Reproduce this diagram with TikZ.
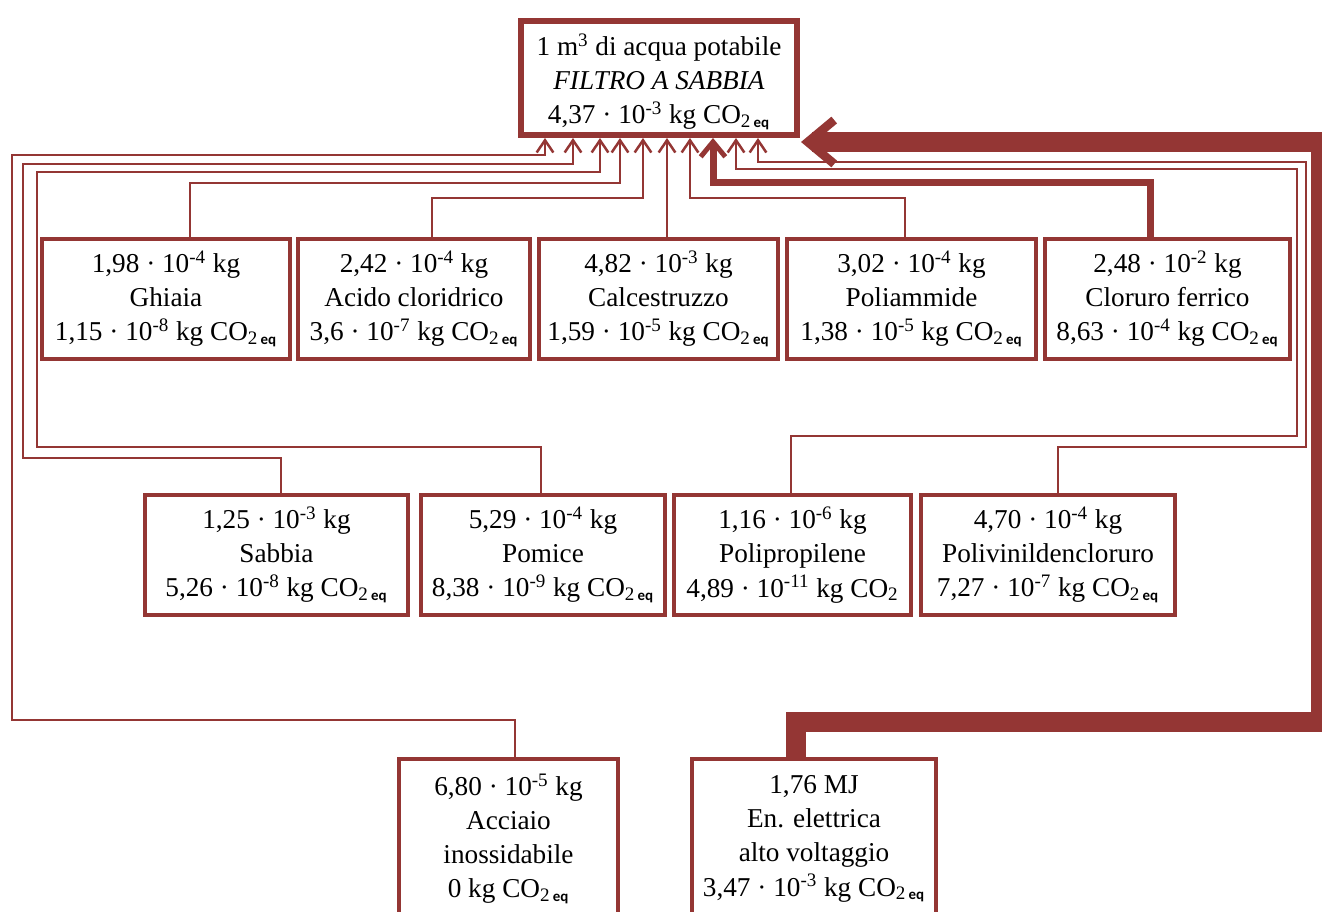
\documentclass[tikz,border=0pt]{standalone}
\usepackage{fontspec}
\setmainfont{Liberation Serif}
\setsansfont{Carlito}
\usetikzlibrary{arrows.meta}
\definecolor{wine}{RGB}{148,54,52}
\newcommand{\coeq}{CO\textsubscript{2\,\sffamily\bfseries\fontsize{8.5}{8.5}\selectfont eq}}

\begin{document}
\begin{tikzpicture}[
  x=0.02cm, y=-0.02cm,
  every node/.style={font=\fontsize{15.5}{19.4}\selectfont},
  item/.style={draw=wine, line width=0.08cm, fill=white, align=center, minimum height=2.4cm, inner sep=2pt},
  goal/.style={item, line width=0.12cm, minimum width=5.52cm, minimum height=2.28cm},
  link/.style={draw=wine, line width=0.05cm, -{Straight Barb[length=7pt,width=9.5pt]}},
  heavy/.style={draw=wine, line width=0.14cm, -{Straight Barb[length=8.5pt,width=14pt,line width=2.8pt]}},
  power/.style={draw=wine, line width=0.4cm, -{Straight Barb[length=15pt,width=25pt,line width=5pt]}}
]
\useasboundingbox (0,0) rectangle (1322,912);

\node[goal] (top) at (659,78) {\rule{0pt}{17pt}1 m\textsuperscript{3} di acqua potabile\\\textit{FILTRO A SABBIA}\\4,37 · 10\textsuperscript{-3} kg \coeq};

\node[item, minimum width=4.96cm] (ghiaia) at (166,299) {1,98 · 10\textsuperscript{-4} kg\\Ghiaia\\1,15 · 10\textsuperscript{-8} kg \coeq};
\node[item, minimum width=4.64cm] (acido) at (414,299) {2,42 · 10\textsuperscript{-4} kg\\Acido cloridrico\\3,6 · 10\textsuperscript{-7} kg \coeq};
\node[item, minimum width=4.78cm] (calc) at (658.5,299) {4,82 · 10\textsuperscript{-3} kg\\Calcestruzzo\\1,59 · 10\textsuperscript{-5} kg \coeq};
\node[item, minimum width=4.98cm] (poliam) at (911.5,299) {3,02 · 10\textsuperscript{-4} kg\\Poliammide\\1,38 · 10\textsuperscript{-5} kg \coeq};
\node[item, minimum width=4.90cm] (clor) at (1167.5,299) {2,48 · 10\textsuperscript{-2} kg\\Cloruro ferrico\\8,63 · 10\textsuperscript{-4} kg \coeq};

\node[item, minimum width=5.26cm] (sabbia) at (276.5,555) {1,25 · 10\textsuperscript{-3} kg\\Sabbia\\5,26 · 10\textsuperscript{-8} kg \coeq};
\node[item, minimum width=4.88cm] (pomice) at (543,555) {5,29 · 10\textsuperscript{-4} kg\\Pomice\\8,38 · 10\textsuperscript{-9} kg \coeq};
\node[item, minimum width=4.74cm] (pp) at (792.5,555) {1,16 · 10\textsuperscript{-6} kg\\Polipropilene\\4,89 · 10\textsuperscript{-11} kg CO\textsubscript{2}};
\node[item, minimum width=5.08cm] (pvdc) at (1048,555) {4,70 · 10\textsuperscript{-4} kg\\Polivinildencloruro\\7,27 · 10\textsuperscript{-7} kg \coeq};

\node[item, anchor=north, minimum width=4.38cm, minimum height=3.2cm] (acc) at (508.5,757) {6,80 · 10\textsuperscript{-5} kg\\Acciaio\\inossidabile\\0 kg \coeq};
\node[item, anchor=north, minimum width=4.88cm, minimum height=3.2cm] (elet) at (814,757) {1,76 MJ\\En. elettrica\\alto voltaggio\\3,47 · 10\textsuperscript{-3} kg \coeq};

\foreach \i/\xx in {1/545,2/573,3/600,4/620,5/643,6/667,7/690,8/713,9/736,10/758}
  \coordinate (in\i) at (\xx,138);
\coordinate (in11) at (801,142);

\draw[link] (acc.north -| 515,0) |- (12,720) |- (0,155 -| in1) -- (in1);
\draw[link] (sabbia.north -| 281,0) |- (23,458) |- (0,164 -| in2) -- (in2);
\draw[link] (pomice.north -| 541,0) |- (37,447) |- (0,172 -| in3) -- (in3);
\draw[link] (ghiaia.north -| 190,0) |- (0,183 -| in4) -- (in4);
\draw[link] (acido.north -| 432,0) |- (0,198 -| in5) -- (in5);
\draw[link] (calc.north -| in6) -- (in6);
\draw[link] (poliam.north -| 905,0) |- (0,198 -| in7) -- (in7);
\draw[heavy] (clor.north -| 1150,0) |- (0,183 -| in8) -- (in8);
\draw[link] (pp.north -| 791,0) |- (1297,436) |- (0,169 -| in9) -- (in9);
\draw[link] (pvdc.north -| 1058,0) |- (1306,447) |- (0,162 -| in10) -- (in10);
\draw[power] (elet.north -| 796,0) |- (1321,722) |- (in11);
\end{tikzpicture}
\end{document}
